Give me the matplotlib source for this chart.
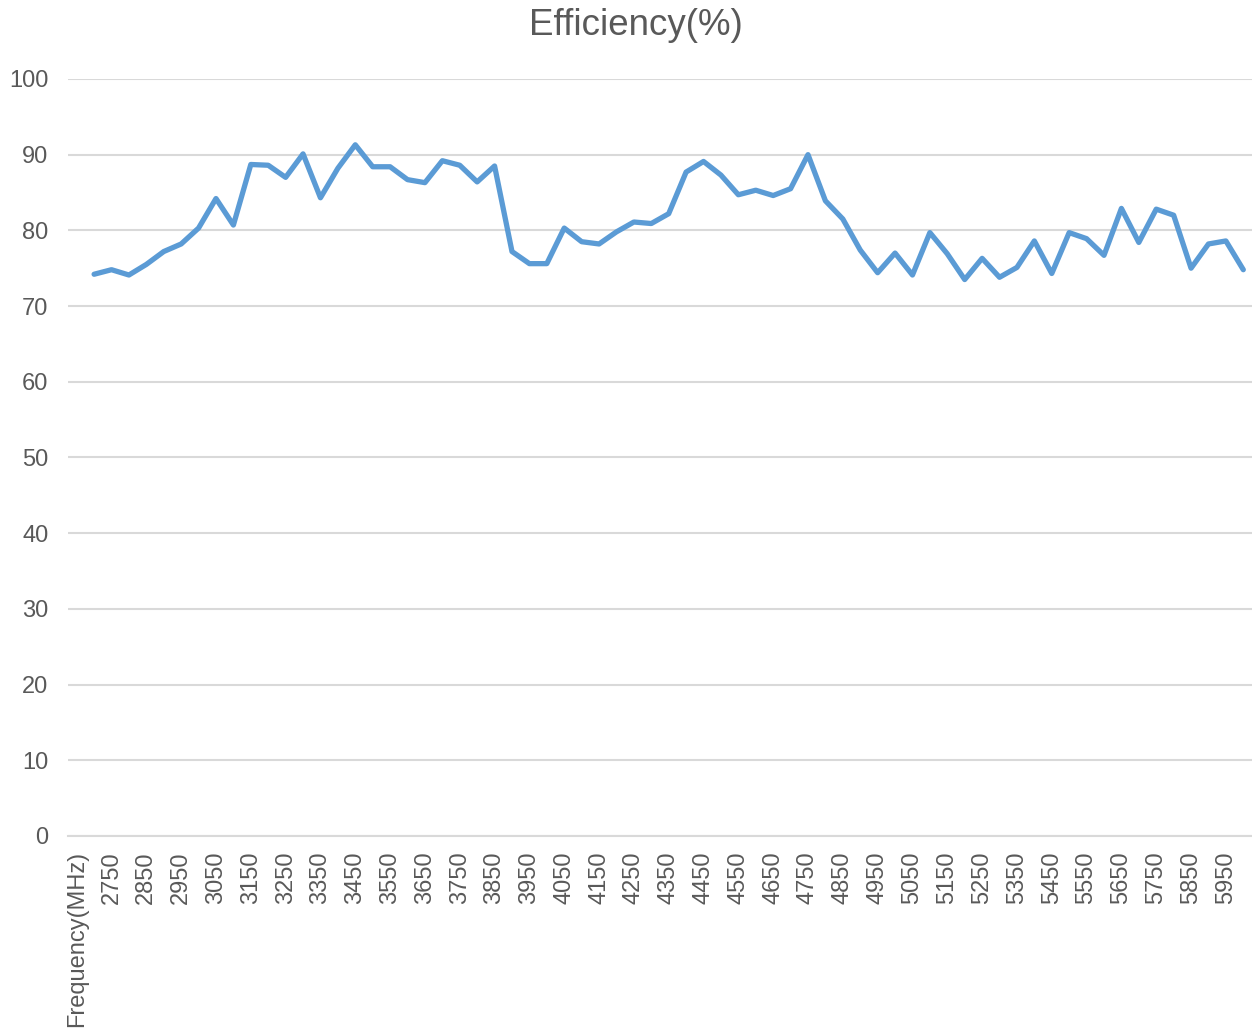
import numpy as np
import matplotlib as mtp
mtp.use("Agg")
import matplotlib.pyplot as plt

plt.rcParams['font.family'] = ['Liberation Sans', 'DejaVu Sans']

# categories (first one is the header cell that ended up on the axis)
freqs = [2700, 2750, 2800, 2850, 2900, 2950, 3000, 3050, 3100, 3150,
         3200, 3250, 3300, 3350, 3400, 3450, 3500, 3550, 3600, 3650,
         3700, 3750, 3800, 3850, 3900, 3950, 4000, 4050, 4100, 4150,
         4200, 4250, 4300, 4350, 4400, 4450, 4500, 4550, 4600, 4650,
         4700, 4750, 4800, 4850, 4900, 4950, 5000, 5050, 5100, 5150,
         5200, 5250, 5300, 5350, 5400, 5450, 5500, 5550, 5600, 5650,
         5700, 5750, 5800, 5850, 5900, 5950, 6000]
efficiency = [74.2, 74.8, 74.1, 75.5, 77.2, 78.2, 80.3, 84.2, 80.7, 88.7,
              88.6, 87.0, 90.1, 84.3, 88.2, 91.3, 88.4, 88.4, 86.7, 86.3,
              89.2, 88.6, 86.4, 88.5, 77.2, 75.6, 75.6, 80.3, 78.5, 78.2,
              79.8, 81.1, 80.9, 82.2, 87.7, 89.1, 87.3, 84.7, 85.3, 84.6,
              85.5, 90.0, 83.9, 81.5, 77.4, 74.4, 77.0, 74.1, 79.7, 76.9,
              73.5, 76.3, 73.8, 75.1, 78.6, 74.3, 79.7, 78.9, 76.7, 82.9,
              78.4, 82.8, 82.0, 75.0, 78.2, 78.6, 74.8]
categories = ["Frequency(MHz)"] + [str(f) for f in freqs]
yticks = [0, 10, 20, 30, 40, 50, 60, 70, 80, 90, 100]

text_col = "#595959"
grid_col = "#D9D9D9"

fig = plt.figure(figsize=(12.52, 10.32), dpi=100)
ax = fig.add_axes([0.0543, 0.19, 0.9457, 0.7335])

x = np.arange(1, len(efficiency) + 1)
ax.plot(x, efficiency, color="#5B9BD5", linewidth=3.8,
        solid_joinstyle="round", solid_capstyle="round", zorder=3)

ax.set_xlim(-0.5, len(categories) - 0.5)
ax.set_ylim(0, 100)
ax.set_yticks(yticks)
ax.set_yticklabels([str(v) for v in yticks])
ax.set_xticks(np.arange(0, len(categories), 2))
ax.set_xticklabels(categories[::2], rotation=90, va="top", ha="center")

ax.grid(axis="y", color=grid_col, linewidth=1.5)
ax.set_axisbelow(True)
for s in ["top", "right", "left"]:
    ax.spines[s].set_visible(False)
ax.spines["bottom"].set_color(grid_col)
ax.spines["bottom"].set_linewidth(1.5)
ax.tick_params(axis="both", length=0, labelsize=17, colors=text_col)
ax.tick_params(axis="y", pad=14)
ax.tick_params(axis="x", pad=11)

fig.text(0.508, 0.975, "Efficiency(%)", ha="center", va="center",
         fontsize=26.5, color=text_col)

plt.savefig("out.png", dpi=100)
